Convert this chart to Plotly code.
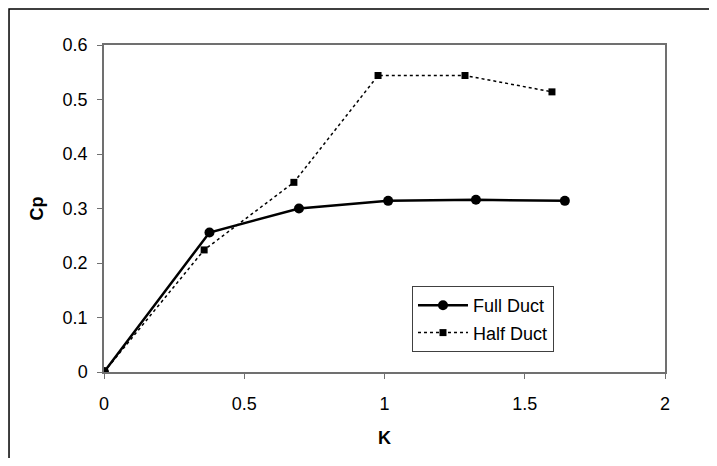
import plotly.graph_objects as go

full_k = [0, 0.376, 0.695, 1.013, 1.326, 1.643]
full_cp = [0, 0.256, 0.300, 0.314, 0.316, 0.314]
half_k = [0, 0.357, 0.677, 0.977, 1.287, 1.597]
half_cp = [0, 0.224, 0.348, 0.544, 0.544, 0.514]

x_ticks = [0, 0.5, 1, 1.5, 2]
y_ticks = [0, 0.1, 0.2, 0.3, 0.4, 0.5, 0.6]

FONT = "Liberation Sans, Arial, sans-serif"

fig = go.Figure()
fig.add_trace(go.Scatter(
    x=full_k, y=full_cp, name="Full Duct", mode="lines+markers",
    line=dict(color="black", width=2.5),
    marker=dict(symbol="circle", size=10, color="black"),
    legendgroup="a",
))
fig.add_trace(go.Scatter(
    x=half_k, y=half_cp, name="Half Duct", mode="lines+markers",
    line=dict(color="black", width=1.5, dash="dot"),
    marker=dict(symbol="square", size=7, color="black"),
    legendgroup="b",
))

axis_common = dict(
    showgrid=False, zeroline=False, showline=True, linecolor="#707070",
    linewidth=1.5, mirror=True, ticks="outside", ticklen=5, tickcolor="#707070",
    tickfont=dict(family=FONT, size=18, color="black"),
    automargin=False,
)
fig.update_xaxes(range=[0, 2], tickvals=x_ticks, ticklabelstandoff=10, **axis_common,
                 title=dict(text="<b>K</b>", font=dict(family=FONT, size=18, color="black"), standoff=18))
fig.update_yaxes(range=[0, 0.6], tickvals=y_ticks, ticklabelstandoff=6, **axis_common,
                 title=dict(text="<b>Cp</b>", font=dict(family=FONT, size=18, color="black"), standoff=14))

fig.update_layout(
    template="none",
    width=701, height=450,
    margin=dict(l=96, r=44, t=37, b=86, autoexpand=False),
    plot_bgcolor="white", paper_bgcolor="white",
    showlegend=True,
    legend=dict(
        x=0.549, y=0.263, xanchor="left", yanchor="top",
        bgcolor="white", bordercolor="#404040", borderwidth=1,
        font=dict(family=FONT, size=18, color="black"),
        traceorder="grouped", tracegroupgap=1,
        itemwidth=50,
    ),
    shapes=[dict(type="path", xref="paper", yref="paper",
                 path="M -0.1693,-2 L -0.1693,1.110 L 3,1.110",
                 line=dict(color="black", width=1.5), layer="below")],
)

fig.write_html("out.html")
